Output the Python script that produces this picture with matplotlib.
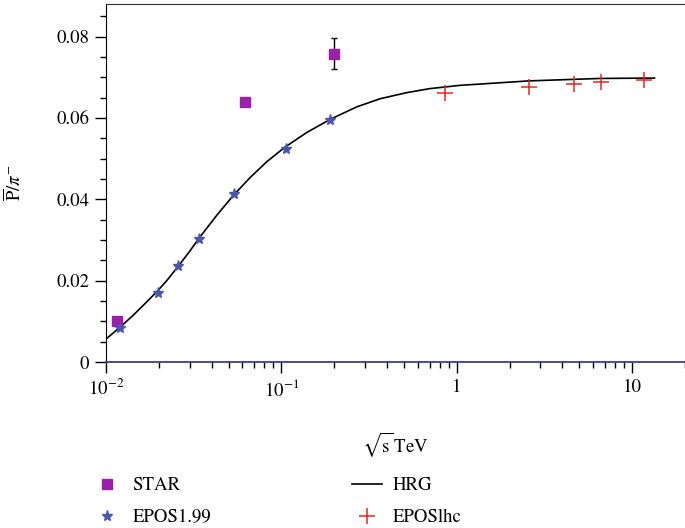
import numpy as np
import matplotlib
matplotlib.use('Agg')
import matplotlib.pyplot as plt
from matplotlib.ticker import FixedLocator, MultipleLocator, FuncFormatter, LogLocator

plt.rcParams['font.family'] = 'STIXGeneral'
plt.rcParams['mathtext.fontset'] = 'stix'

# STAR data (sqrt(s) in TeV, ratio)
star_x = [0.0115, 0.0624, 0.200]
star_y = [0.0100, 0.0639, 0.0758]
star_err = [0.0, 0.0, 0.0038]

# EPOS1.99
epos199_x = [0.0120, 0.0197, 0.0258, 0.0340, 0.0538, 0.1057, 0.189]
epos199_y = [0.0084, 0.0169, 0.0237, 0.0303, 0.0412, 0.0524, 0.0596]

# EPOSlhc
eposlhc_x = [0.854, 2.58, 4.64, 6.67, 11.6]
eposlhc_y = [0.0662, 0.0677, 0.0684, 0.0688, 0.0692]

# HRG curve
hrg_x = [0.0101, 0.0120, 0.0143, 0.0171, 0.0199, 0.0222, 0.0258, 0.0301,
         0.0343, 0.0427, 0.0531, 0.0662, 0.0824, 0.1047, 0.1393, 0.1889,
         0.2684, 0.3643, 0.5166, 0.7015, 1.04, 2.57, 6.53, 13.4]
hrg_y = [0.0058, 0.0085, 0.0115, 0.0148, 0.0177, 0.0200, 0.0235, 0.0273,
         0.0307, 0.0360, 0.0409, 0.0453, 0.0492, 0.0528, 0.0564, 0.0596,
         0.0627, 0.0647, 0.0662, 0.0672, 0.0680, 0.0691, 0.0697, 0.0698]

fig = plt.figure(figsize=(6.85, 5.28), dpi=100)
ax = fig.add_axes([0.1547, 0.3144, 0.8453, 0.678])

ax.plot(hrg_x, hrg_y, color='black', lw=1.2, label='HRG', zorder=2)
ax.errorbar(star_x, star_y, yerr=star_err, fmt='none', ecolor='black',
            elinewidth=1, capsize=2, capthick=1, zorder=2.5)
ax.plot(star_x, star_y, 's', color='#9b1fa8', markersize=7.5,
        label='STAR', zorder=3)
ax.plot(epos199_x, epos199_y, '*', color='#4a55b0', markersize=8,
        label='EPOS1.99', zorder=4)
ax.plot(eposlhc_x, eposlhc_y, '+', color='#e8261e', markersize=12,
        markeredgewidth=1.1, label='EPOSlhc', zorder=4)

ax.set_xscale('log')
ax.set_xlim(0.01, 20)
ax.set_ylim(0, 0.088)

ax.xaxis.set_major_locator(FixedLocator([0.01, 0.1, 1, 10]))
ax.xaxis.set_major_formatter(FuncFormatter(
    lambda v, p: {0.01: '$10^{-2}$', 0.1: '$10^{-1}$', 1: '1', 10: '10'}.get(round(v, 3), '')))
ax.xaxis.set_minor_locator(LogLocator(base=10, subs=np.arange(2, 10)))
ax.xaxis.set_minor_formatter(FuncFormatter(lambda v, p: ''))

ax.yaxis.set_major_locator(MultipleLocator(0.02))
ax.yaxis.set_minor_locator(MultipleLocator(0.005))
ax.yaxis.set_major_formatter(FuncFormatter(lambda v, p: '0' if v == 0 else '%.2f' % v))

ax.tick_params(which='major', direction='out', length=8, width=1, labelsize=13.5, pad=4)
ax.tick_params(which='minor', direction='out', length=4, width=1)

ax.spines['right'].set_visible(False)
ax.spines['top'].set_color('#333333')
ax.spines['bottom'].set_color('#3b3b98')
ax.spines['bottom'].set_linewidth(1.3)

ax.set_xlabel(r'$\sqrt{\mathrm{s}}\,\mathrm{TeV}$', fontsize=13.5)
ax.xaxis.set_label_coords(0.5, -0.19)
ax.set_ylabel(r'$\overline{\mathrm{P}}/\pi^{-}$', fontsize=13.5)
ax.yaxis.set_label_coords(-0.14, 0.5)

handles, labels = ax.get_legend_handles_labels()
order = [labels.index(n) for n in ['STAR', 'EPOS1.99', 'HRG', 'EPOSlhc']]
fig.legend([handles[i] for i in order], [labels[i] for i in order],
           ncol=2, frameon=False, fontsize=13.5, loc='upper left',
           bbox_to_anchor=(0.121, 0.114), bbox_transform=fig.transFigure,
           borderpad=0, columnspacing=7.5, handlelength=1.6,
           handletextpad=0.55, labelspacing=0.8)

fig.savefig('out.png', dpi=100)
